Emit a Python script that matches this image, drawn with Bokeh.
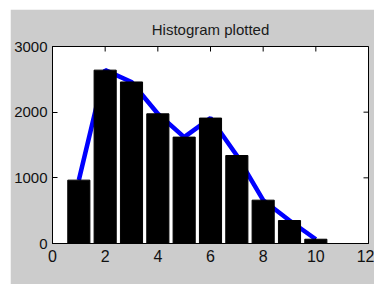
import math
from bokeh.plotting import figure
from bokeh.models import FixedTicker, Range1d, Spacer
from bokeh.layouts import column, row
from bokeh.embed import file_html
from bokeh.resources import INLINE

bins = [1, 2, 3, 4, 5, 6, 7, 8, 9, 10]
counts = [965, 2640, 2460, 1975, 1620, 1910, 1340, 660, 350, 65]
x_ticks = [0, 2, 4, 6, 8, 10, 12]
y_ticks = [0, 1000, 2000, 3000]
x_lim = (0, 12)
y_lim = (0, 3000)
title_text = "Histogram plotted"

FONT = "Liberation Sans"
BG = "#cccccc"

p = figure(frame_width=316, frame_height=197, output_backend="svg", toolbar_location=None,
           x_range=Range1d(*x_lim), y_range=Range1d(*y_lim),
           min_border_left=42, min_border_right=6, min_border_top=37, min_border_bottom=41,
           background_fill_color="white", border_fill_color=BG,
           outline_line_color="black", outline_line_width=1)
p.grid.visible = False

p.title.text = title_text
p.title.align = "center"
p.title.text_font = FONT
p.title.text_font_size = "15px"
p.title.text_font_style = "normal"
p.title.text_color = "#1a1a1a"
p.title.standoff = 18
p.title.text_line_height = 1.0

p.line(bins, counts, line_color="#0000ff", line_width=4.5)
p.vbar(x=bins, top=counts, width=0.84, fill_color="black", line_color="black")

# inside tick marks on the top and right edges of the box
p.scatter(x=x_ticks, y=[y_lim[1]] * len(x_ticks), marker="dash", size=10,
          angle=math.pi / 2, line_color="black", line_width=1)
p.scatter(x=[x_lim[1]] * len(y_ticks), y=y_ticks, marker="dash", size=10,
          line_color="black", line_width=1)

for ax in p.xaxis:
    ax.ticker = FixedTicker(ticks=x_ticks)
    ax.major_label_standoff = 6
    ax.major_label_text_font_size = "16px"
for ax in p.yaxis:
    ax.ticker = FixedTicker(ticks=y_ticks)
    ax.major_label_standoff = 5
    ax.major_label_text_font_size = "15px"
for ax in list(p.xaxis) + list(p.yaxis):
    ax.major_tick_in = 5
    ax.major_tick_out = 0
    ax.minor_tick_in = 0
    ax.minor_tick_out = 0
    ax.axis_line_color = "black"
    ax.major_tick_line_color = "black"
    ax.major_label_text_font = FONT
    ax.major_label_text_color = "#111111"

layout = column(Spacer(height=9), row(Spacer(width=10), p))
open("out.html", "w").write(file_html(layout, INLINE))
